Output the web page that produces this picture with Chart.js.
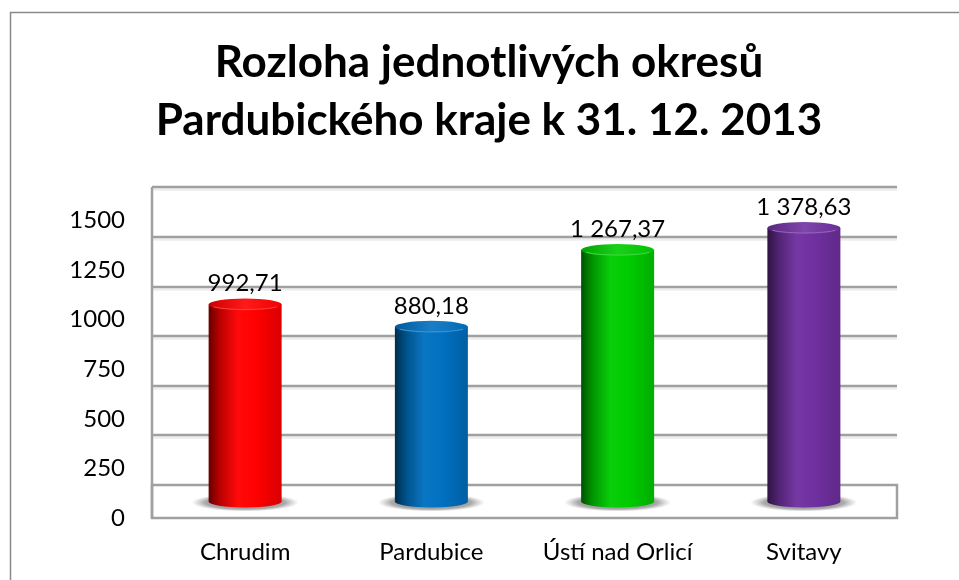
<!DOCTYPE html>
<html>
<head>
<meta charset="utf-8">
<script src="https://cdn.jsdelivr.net/npm/chart.js@4.4.1/dist/chart.umd.min.js"></script>
<style>
  html, body { margin: 0; padding: 0; background: #fff; }
  #wrap { position: relative; width: 959px; height: 580px; }
</style>
</head>
<body>
<div id="wrap"><canvas id="chart"></canvas></div>
<script>
// data
const districts = ['Chrudim', 'Pardubice', 'Ústí nad Orlicí', 'Svitavy'];
const areaKm2 = [992.71, 880.18, 1267.37, 1378.63];
const yTickValues = [0, 250, 500, 750, 1000, 1250, 1500];
const titleLines = ['Rozloha jednotlivých okresů', 'Pardubického kraje k 31. 12. 2013'];
const barColors = ['#ff0000', '#0070c0', '#00cc00', '#7030a0'];

const DEPTH = 16.5;          // half depth of the 3D floor, px
const GRID = '#a0a0a0';

function formatCz(v) {
  const [i, d] = v.toFixed(2).split('.');
  return i.replace(/\B(?=(\d{3})+(?!\d))/g, ' ') + ',' + d;
}

function mix(hex, target, t) {
  const n = parseInt(hex.slice(1), 16);
  const r = n >> 16, g = (n >> 8) & 255, b = n & 255;
  const m = v => Math.round(v + (target - v) * t);
  return `rgb(${m(r)},${m(g)},${m(b)})`;
}

// outer frame + two-line title (centred on the Excel chart object, not the canvas)
const framePlugin = {
  id: 'frame',
  beforeDraw(chart) {
    const ctx = chart.ctx;
    ctx.save();
    ctx.strokeStyle = '#8a8a8a';
    ctx.lineWidth = 1.5;
    ctx.beginPath();
    ctx.moveTo(10.5, 580);
    ctx.lineTo(10.5, 12.5);
    ctx.lineTo(959, 12.5);
    ctx.stroke();

    ctx.fillStyle = '#000';
    ctx.font = 'bold 44px Lato';
    ctx.textAlign = 'center';
    ctx.textBaseline = 'middle';
    titleLines.forEach((t, i) => ctx.fillText(t, 489, 63 + i * 58));
    ctx.restore();
  }
};

// back wall gridlines, left wall and floor, plus cylinder shadows
const wallPlugin = {
  id: 'walls',
  beforeDatasetsDraw(chart) {
    const { ctx, chartArea: a, scales: { y } } = chart;
    ctx.save();
    ctx.lineWidth = 2.5;
    yTickValues.forEach(v => {
      if (v === 0) return;
      const py = Math.round(y.getPixelForValue(v) - DEPTH);
      ctx.strokeStyle = 'rgba(0,0,0,0.07)';
      ctx.beginPath(); ctx.moveTo(a.left, py + 2.5); ctx.lineTo(a.right, py + 2.5); ctx.stroke();
      ctx.strokeStyle = GRID;
      ctx.beginPath(); ctx.moveTo(a.left, py); ctx.lineTo(a.right, py); ctx.stroke();
    });
    const backZero = Math.round(y.getPixelForValue(0) - DEPTH);
    const frontZero = Math.round(y.getPixelForValue(0) + DEPTH);
    const top = Math.round(y.getPixelForValue(1500) - DEPTH);
    ctx.strokeStyle = GRID;
    ctx.strokeRect(a.left, backZero, a.right - a.left, frontZero - backZero);
    ctx.beginPath(); ctx.moveTo(a.left, top); ctx.lineTo(a.left, frontZero); ctx.stroke();

    // soft shadows under cylinders
    chart.getDatasetMeta(0).data.forEach(bar => {
      const rx = bar.width / 2 + 17, ry = 9;
      ctx.save();
      ctx.translate(bar.x, bar.base + 1);
      ctx.scale(1, ry / rx);
      const g = ctx.createRadialGradient(0, 0, 0, 0, 0, rx);
      g.addColorStop(0, 'rgba(60,60,60,0.8)');
      g.addColorStop(0.75, 'rgba(100,100,100,0.55)');
      g.addColorStop(1, 'rgba(130,130,130,0)');
      ctx.fillStyle = g;
      ctx.beginPath(); ctx.arc(0, 0, rx, 0, Math.PI * 2); ctx.fill();
      ctx.restore();
    });
    ctx.restore();
  }
};

// cylinders and value labels
const cylinderPlugin = {
  id: 'cylinders',
  afterDatasetsDraw(chart) {
    const ctx = chart.ctx;
    const meta = chart.getDatasetMeta(0);
    ctx.save();
    meta.data.forEach((bar, i) => {
      const c = barColors[i];
      const rx = bar.width / 2, ry = 6;
      const left = bar.x - rx, right = bar.x + rx;
      const g = ctx.createLinearGradient(left, 0, right, 0);
      g.addColorStop(0, mix(c, 0, 0.6));
      g.addColorStop(0.15, mix(c, 0, 0.28));
      g.addColorStop(0.4, mix(c, 255, 0.04));
      g.addColorStop(0.65, c);
      g.addColorStop(1, mix(c, 0, 0.15));
      ctx.fillStyle = g;
      ctx.beginPath();
      ctx.moveTo(left, bar.y);
      ctx.lineTo(left, bar.base);
      ctx.ellipse(bar.x, bar.base, rx, ry, 0, Math.PI, 0, true);
      ctx.lineTo(right, bar.y);
      ctx.closePath();
      ctx.fill();

      const tg = ctx.createLinearGradient(left, 0, right, 0);
      tg.addColorStop(0, mix(c, 0, 0.2));
      tg.addColorStop(0.5, mix(c, 255, 0.1));
      tg.addColorStop(1, mix(c, 0, 0.05));
      ctx.fillStyle = tg;
      ctx.beginPath();
      ctx.ellipse(bar.x, bar.y, rx, ry, 0, 0, Math.PI * 2);
      ctx.fill();
      ctx.strokeStyle = mix(c, 255, 0.25);
      ctx.lineWidth = 1;
      ctx.beginPath();
      ctx.ellipse(bar.x, bar.y, rx - 1, ry - 1, 0, 0.15 * Math.PI, 0.85 * Math.PI);
      ctx.stroke();

      ctx.fillStyle = '#000';
      ctx.font = '24px Lato';
      ctx.textAlign = 'center';
      ctx.textBaseline = 'middle';
      ctx.fillText(formatCz(areaKm2[i]), bar.x, bar.y - 21);
    });
    ctx.restore();
  }
};

new Chart(document.getElementById('chart'), {
  type: 'bar',
  data: {
    labels: districts,
    datasets: [{
      data: areaKm2,
      backgroundColor: 'rgba(0,0,0,0)',
      borderWidth: 0,
      barThickness: 73
    }]
  },
  options: {
    responsive: true,
    maintainAspectRatio: false,
    animation: false,
    layout: { padding: { left: 0, right: 62, top: 203.9, bottom: 0 } },
    plugins: {
      legend: { display: false },
      tooltip: { enabled: false },
      title: { display: false }
    },
    scales: {
      x: {
        afterFit: s => { s.height = 78.5; },
        grid: { display: false, drawTicks: false },
        border: { display: false },
        ticks: { color: '#000', font: { family: 'Lato', size: 24 }, padding: 36.2, maxRotation: 0 }
      },
      y: {
        min: 0,
        max: 1500,
        afterFit: s => { s.width = 152; },
        afterBuildTicks: s => { s.ticks = yTickValues.map(v => ({ value: v })); },
        grid: { display: false, drawTicks: false },
        border: { display: false },
        ticks: {
          color: '#000',
          font: { family: 'Lato', size: 24 },
          padding: 27,
          labelOffset: DEPTH,
          callback: v => String(v)
        }
      }
    }
  },
  plugins: [framePlugin, wallPlugin, cylinderPlugin]
});
</script>
</body>
</html>
